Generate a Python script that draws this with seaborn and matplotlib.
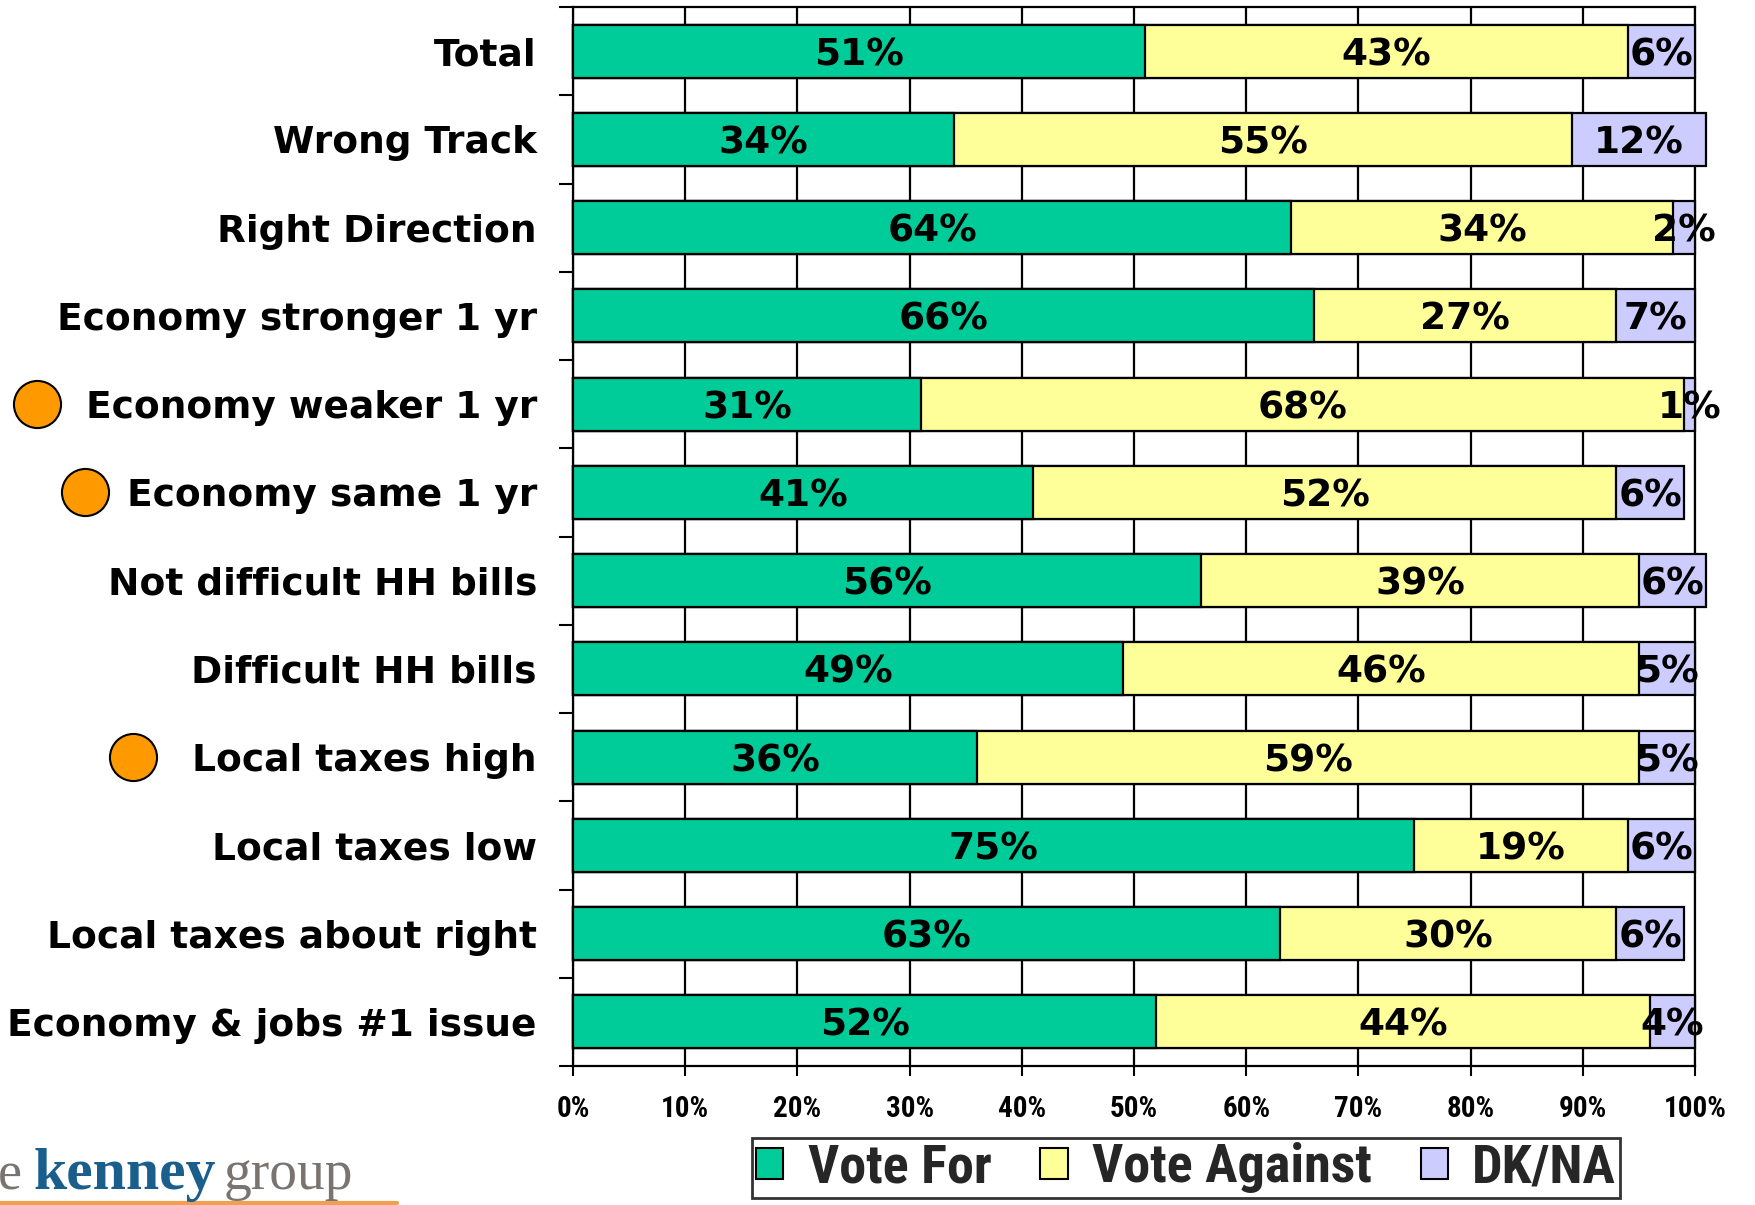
import matplotlib
matplotlib.use("Agg")
import matplotlib.pyplot as plt
from matplotlib import font_manager, transforms
from matplotlib.patches import Patch
from matplotlib.lines import Line2D
import seaborn as sns
import pandas as pd
import numpy as np

categories = ["Total", "Wrong Track", "Right Direction", "Economy stronger 1 yr",
              "Economy weaker 1 yr", "Economy same 1 yr", "Not difficult HH bills",
              "Difficult HH bills", "Local taxes high", "Local taxes low",
              "Local taxes about right", "Economy & jobs #1 issue"]
vote_for = [51, 34, 64, 66, 31, 41, 56, 49, 36, 75, 63, 52]
vote_against = [43, 55, 34, 27, 68, 52, 39, 46, 59, 19, 30, 44]
dk_na = [6, 12, 2, 7, 1, 6, 6, 5, 5, 6, 6, 4]
series_names = ["Vote For", "Vote Against", "DK/NA"]
x_ticks = [0, 10, 20, 30, 40, 50, 60, 70, 80, 90, 100]
flagged = ["Economy weaker 1 yr", "Economy same 1 yr", "Local taxes high"]

sns.set_theme(style="white")
plt.rcParams["font.family"] = ["DejaVu Sans"]

available = {f.name for f in font_manager.fontManager.ttflist}
narrow = next((f for f in ["Liberation Sans Narrow", "DejaVu Sans Condensed",
                           "Roboto Condensed", "Liberation Sans"] if f in available), "DejaVu Sans")
serif = next((f for f in ["Liberation Serif", "DejaVu Serif"] if f in available), "serif")

GREEN, YELLOW, LAV = "#00CC99", "#FFFF99", "#CCCCFF"

W, H = 1755, 1205
fig = plt.figure(figsize=(W / 100, H / 100), dpi=100)
ax = fig.add_axes([573 / W, 1 - 1066 / H, (1695 - 573) / W, (1066 - 7) / H])

df = pd.DataFrame({"cat": categories, "for": vote_for,
                   "against": vote_against, "dk": dk_na})
df["c_against"] = df["for"] + df["against"]
df["c_dk"] = df["c_against"] + df["dk"]

for col, color in [("c_dk", LAV), ("c_against", YELLOW), ("for", GREEN)]:
    sns.barplot(data=df, x=col, y="cat", orient="h", color=color, saturation=1,
                edgecolor="black", linewidth=1.6, width=0.6, ax=ax,
                clip_on=False, zorder=3)

# value labels
for i, row in df.iterrows():
    starts = [0, row["for"], row["c_against"]]
    vals = [row["for"], row["against"], row["dk"]]
    for s, v in zip(starts, vals):
        ax.text(s + v / 2, i, f"{v}%", ha="center", va="center_baseline",
                fontsize=27, fontweight="bold", color="black", zorder=5,
                clip_on=False)

ax.set_xlim(0, 100)
ax.set_ylim(11.5, -0.5)
ax.set_xlabel("")
ax.set_ylabel("")

ax.set_axisbelow(True)
ax.xaxis.grid(True, color="black", linewidth=1.6)
ax.yaxis.grid(False)

ax.set_xticks(x_ticks)
ax.set_xticklabels([f"{v}%" for v in x_ticks], fontfamily=narrow,
                   fontweight="bold", fontsize=21)
ax.tick_params(axis="x", which="major", length=7, width=1.5, direction="out",
               pad=14, colors="black", bottom=True)

ax.set_yticks(range(len(categories)))
ax.set_yticklabels(categories, fontsize=27, fontweight="bold")
ax.set_yticks(np.arange(-0.5, len(categories), 1.0), minor=True)
ax.tick_params(axis="y", which="major", length=0, pad=26, colors="black")
ax.tick_params(axis="y", which="minor", length=10, width=1.5, direction="out",
               left=True, color="black")

for side in ["top", "bottom", "left", "right"]:
    ax.spines[side].set_visible(True)
    ax.spines[side].set_color("black")
    ax.spines[side].set_linewidth(1.6)

# orange markers beside flagged categories
marker_x = {"Economy weaker 1 yr": 37 / W, "Economy same 1 yr": 85 / W,
            "Local taxes high": 133 / W}
trans = transforms.blended_transform_factory(fig.transFigure, ax.transData)
for name in flagged:
    ax.scatter([marker_x[name]], [categories.index(name)], s=1150,
               color="#FF9900", edgecolor="black", linewidth=1.5,
               transform=trans, clip_on=False, zorder=6)

# legend
handles = [Patch(facecolor=c, edgecolor="black", linewidth=1.5)
           for c in [GREEN, YELLOW, LAV]]
leg = fig.legend(handles, series_names, loc="upper left",
                 bbox_to_anchor=(752 / W, 1 - 1138 / H), ncol=3, frameon=True,
                 fancybox=False, edgecolor="black",
                 prop=dict(family=narrow, weight="bold", size=39),
                 handlelength=0.5, handleheight=0.5, handletextpad=0.45,
                 columnspacing=0.9, borderpad=0.08, borderaxespad=0)
leg.get_frame().set_linewidth(2)

# logo
fig.text(-2 / W, 1 - 1189 / H, "e", fontfamily=serif, fontsize=39,
         color="#7A7470", va="baseline", ha="left")
fig.text(34 / W, 1 - 1189 / H, "kenney", fontfamily=serif, fontsize=43,
         fontweight="bold", color="#1A5E8C", va="baseline", ha="left")
fig.text(224 / W, 1 - 1189 / H, "group", fontfamily=serif, fontsize=40,
         color="#7A7470", va="baseline", ha="left")
fig.add_artist(Line2D([0, 397 / W], [1 - 1203 / H] * 2, color="#F0A050",
                      linewidth=3, transform=fig.transFigure))

fig.savefig("out.png", dpi=100, facecolor="white")
